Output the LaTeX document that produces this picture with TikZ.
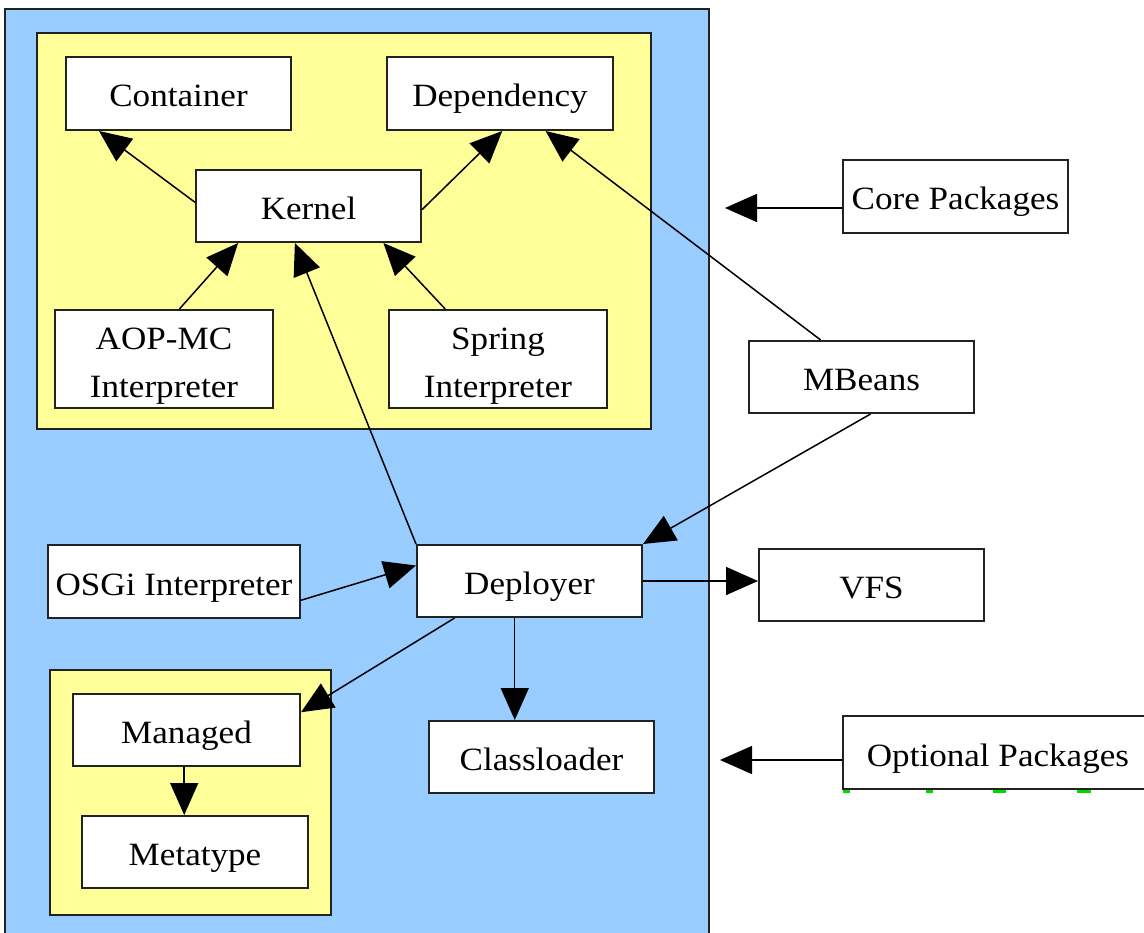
\documentclass[tikz,border=0pt]{standalone}
\usepackage{fontspec}
\setmainfont[FakeStretch=1.08]{Liberation Serif}
\usetikzlibrary{arrows.meta,calc}
\definecolor{panelblue}{HTML}{99CCFF}
\definecolor{panelyellow}{HTML}{FFFF99}
\definecolor{edgegray}{HTML}{222222}
\newcommand{\twolines}[2]{\raisebox{0pt}[23pt][0pt]{\begin{tabular}{@{}c@{}}#1\\#2\end{tabular}}}
\begin{document}
\begin{tikzpicture}[x=1pt,y=-1pt,
  box/.style={draw=edgegray,line width=2pt,fill=white,inner sep=0pt,
    font=\fontsize{32.5}{48}\selectfont},
  oneline/.style={box,text height=27pt,text depth=0pt},
  region/.style={draw=edgegray,line width=2pt},
  link/.style={draw=black,line width=1.5pt,-{Triangle[length=32pt,width=28pt]}}]
\useasboundingbox (0,0) rectangle (1144,933);
% panels
\fill[panelblue] (5,9) rectangle (709,940);
\draw[edgegray,line width=2pt] (5,940) -- (5,9) -- (709,9) -- (709,940);
\draw[region,fill=panelyellow] (37,33) rectangle (651,429);
\draw[region,fill=panelyellow] (50,670) rectangle (331,915);
% components
\node[oneline,minimum width=225pt,minimum height=73pt] (container) at (178.5,93.5) {Container};
\node[oneline,minimum width=226pt,minimum height=73pt] (dependency) at (500,93.5) {Dependency};
\node[oneline,minimum width=225pt,minimum height=72pt] (kernel) at (308.5,206) {Kernel};
\node[box,minimum width=218pt,minimum height=98pt] (aop) at (164,359) {\twolines{AOP-MC}{Interpreter}};
\node[box,minimum width=218pt,minimum height=98pt] (spring) at (498,359) {\twolines{Spring}{Interpreter}};
\node[oneline,minimum width=225pt,minimum height=73pt] (core) at (955.5,196.5) {Core Packages};
\node[oneline,minimum width=225pt,minimum height=72pt] (mbeans) at (861.5,377) {MBeans};
\node[oneline,minimum width=252pt,minimum height=73pt] (osgi) at (174,581.5) {OSGi Interpreter};
\node[oneline,minimum width=225pt,minimum height=72pt] (deployer) at (529.5,581) {Deployer};
\node[oneline,minimum width=225pt,minimum height=72pt] (vfs) at (871.5,585) {VFS};
\node[oneline,minimum width=227pt,minimum height=72pt] (managed) at (186.5,730) {Managed};
\node[oneline,minimum width=226pt,minimum height=72pt] (metatype) at (195,852) {Metatype};
\node[oneline,minimum width=225pt,minimum height=72pt] (classloader) at (541.5,757) {Classloader};
\node[oneline,minimum width=310pt,minimum height=73pt] (optional) at (998,752.5) {Optional Packages};
% small marks under the optional packages box
\fill[green!85!black] (843,790) rectangle (850,793);
\fill[green!85!black] (926,790) rectangle (933,793);
\fill[green!85!black] (993,790) rectangle (1006,793);
\fill[green!85!black] (1077,790) rectangle (1091,793);
% free ends of the package arrows
\coordinate (coretip) at (725,208);
\coordinate (optionaltip) at (720,760);
% connectors
\draw[link] ($(kernel.north west)!0.45!(kernel.south west)$) -- ($(container.south west)!0.15!(container.south east)$);
\draw[link] ($(kernel.north east)!0.55!(kernel.south east)$) -- ($(dependency.south west)!0.51!(dependency.south east)$);
\draw[link] ($(aop.north west)!0.57!(aop.north east)$) -- ($(kernel.south west)!0.19!(kernel.south east)$);
\draw[link] ($(spring.north west)!0.26!(spring.north east)$) -- ($(kernel.south west)!0.83!(kernel.south east)$);
\draw[link] (deployer.north west) -- ($(kernel.south west)!0.44!(kernel.south east)$);
\draw[link] ($(mbeans.north west)!0.32!(mbeans.north east)$) -- ($(dependency.south west)!0.70!(dependency.south east)$);
\draw[link] ($(mbeans.south west)!0.54!(mbeans.south east)$) -- (deployer.north east);
\draw[link] ($(osgi.north east)!0.75!(osgi.south east)$) -- ($(deployer.north west)!0.29!(deployer.south west)$);
\draw[link] ($(deployer.north east)!0.5!(deployer.south east)$) coordinate (dve) -- (dve -| vfs.west);
\draw[link] ($(deployer.south west)!0.17!(deployer.south east)$) -- ($(managed.north east)!0.26!(managed.south east)$);
\draw[link] ($(deployer.south west)!0.435!(deployer.south east)$) coordinate (dcl) -- (dcl |- classloader.north);
\draw[link] ($(managed.south west)!0.49!(managed.south east)$) coordinate (mmt) -- (mmt |- metatype.north);
\draw[link] (core.west |- coretip) -- (coretip);
\draw[link] (optional.west |- optionaltip) -- (optionaltip);
\end{tikzpicture}
\end{document}
